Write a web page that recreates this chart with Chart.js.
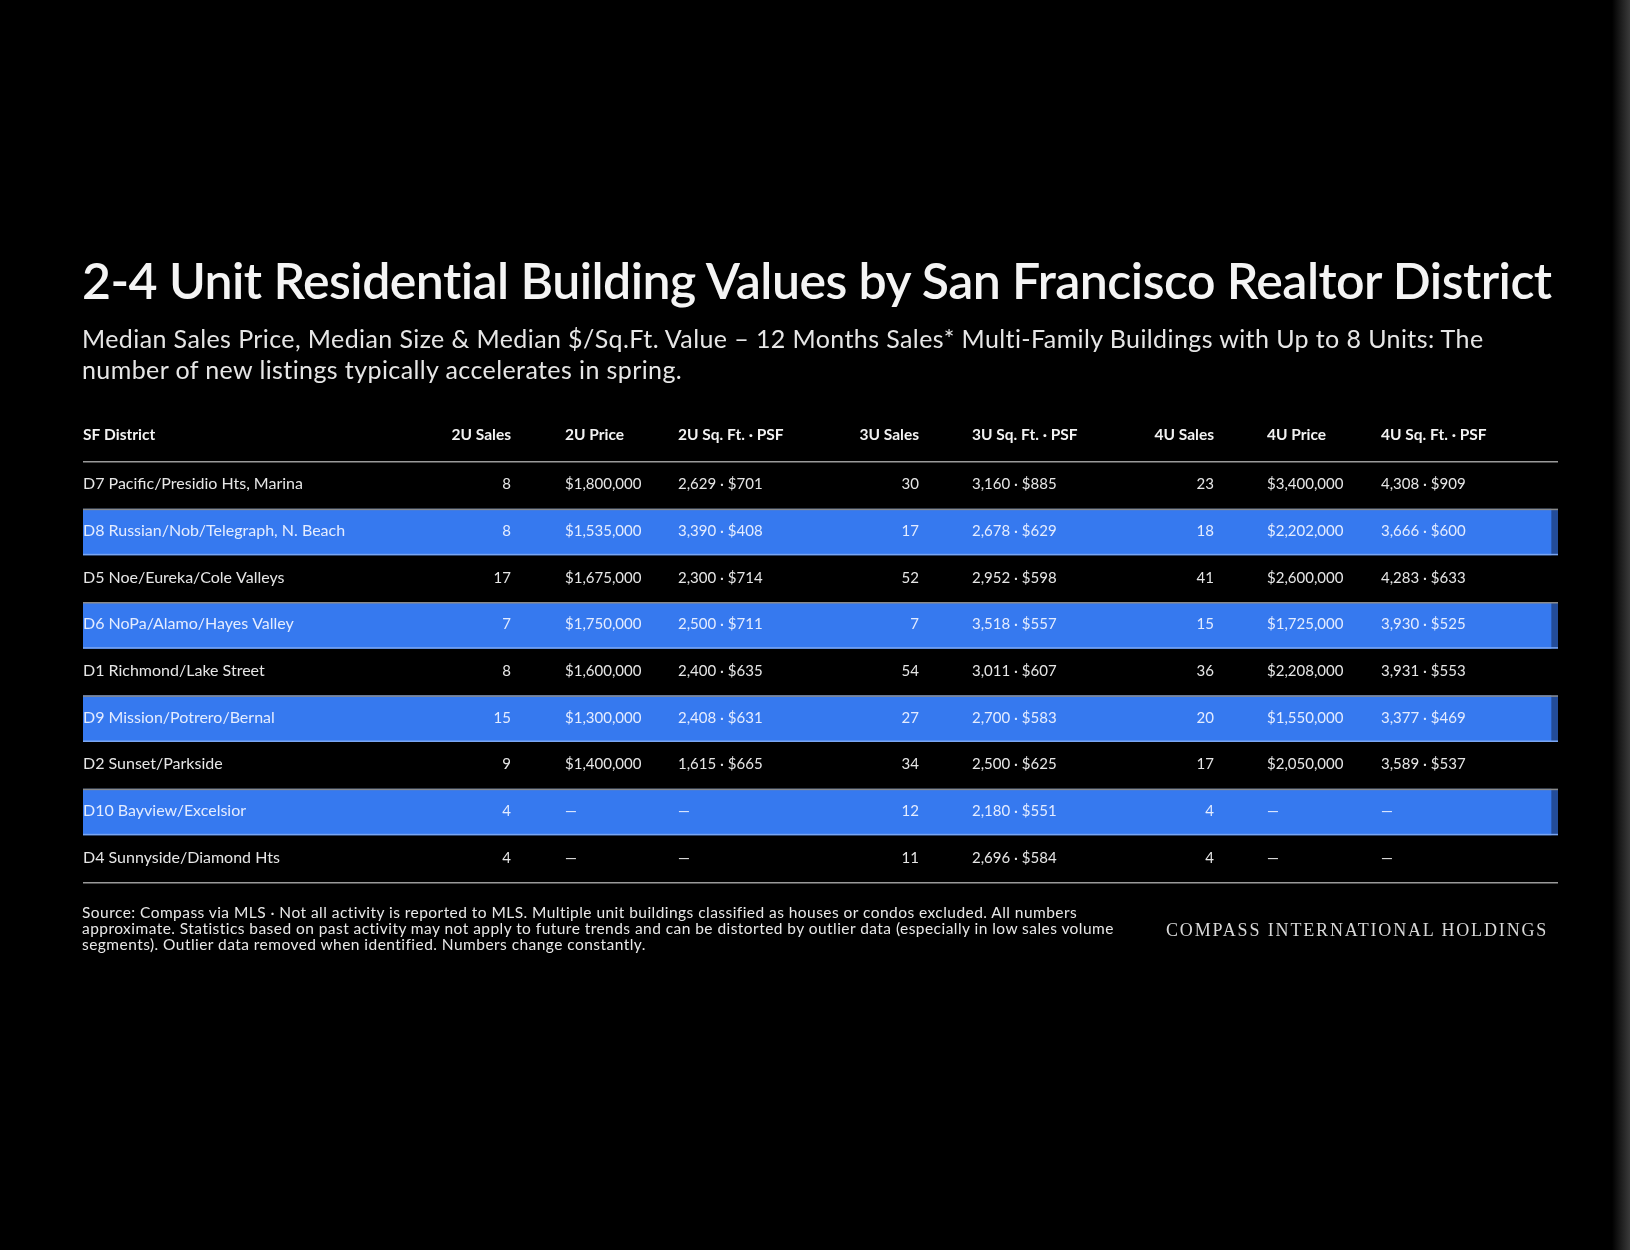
<!DOCTYPE html>
<html>
<head>
<meta charset="utf-8">
<script src="https://cdn.jsdelivr.net/npm/chart.js@4.4.1/dist/chart.umd.min.js"></script>
<style>
html, body { margin: 0; padding: 0; background: #000; }
#page { position: relative; width: 1630px; height: 1250px; overflow: hidden; background: #000; font-family: Lato, "Noto Sans", sans-serif; }
#chart { position: absolute; left: 0; top: 0; }
.txt { position: absolute; white-space: nowrap; }
#title { left: 82px; top: 250px; font-size: 50px; font-weight: 600; color: #f4f4f4; line-height: 60px; letter-spacing: -0.55px; }
#subtitle { left: 82px; top: 323px; font-size: 25px; color: #e6e6e6; line-height: 31px; letter-spacing: 0.4px; }
#foot { left: 82px; top: 904px; font-size: 15.5px; color: #e8e8e8; line-height: 16px; letter-spacing: 0.45px; }
#brand { left: 1166px; top: 920px; font-family: "Liberation Serif", "DejaVu Serif", serif; font-size: 18px; letter-spacing: 1.85px; color: #d8d8d8; }
#edge { position: absolute; right: 0; top: 0; width: 18px; height: 1250px; background: linear-gradient(to right, rgba(60,60,60,0), #3a3a3a); }
</style>
</head>
<body>
<div id="page">
  <canvas id="chart" width="1630" height="1250"></canvas>
  <div class="txt" id="title">2-4 Unit Residential Building Values by San Francisco Realtor District</div>
  <div class="txt" id="subtitle">Median Sales Price, Median Size &amp; Median $/Sq.Ft. Value – 12 Months Sales* Multi-Family Buildings with Up to 8 Units: The<br>number of new listings typically accelerates in spring.</div>
  <div class="txt" id="foot">Source: Compass via MLS · Not all activity is reported to MLS. Multiple unit buildings classified as houses or condos excluded. All numbers<br>approximate. Statistics based on past activity may not apply to future trends and can be distorted by outlier data (especially in low sales volume<br>segments). Outlier data removed when identified. Numbers change constantly.</div>
  <div class="txt" id="brand">COMPASS INTERNATIONAL HOLDINGS</div>
  <div id="edge"></div>
</div>
<script>
// table data, one row per district
var districts = ["D7 Pacific/Presidio Hts, Marina", "D8 Russian/Nob/Telegraph, N. Beach", "D5 Noe/Eureka/Cole Valleys",
    "D6 NoPa/Alamo/Hayes Valley", "D1 Richmond/Lake Street", "D9 Mission/Potrero/Bernal",
    "D2 Sunset/Parkside", "D10 Bayview/Excelsior", "D4 Sunnyside/Diamond Hts"];
var sales2 = [8, 8, 17, 7, 8, 15, 9, 4, 4];
var price2 = [1800000, 1535000, 1675000, 1750000, 1600000, 1300000, 1400000, null, null];
var sqft2 = [2629, 3390, 2300, 2500, 2400, 2408, 1615, null, null];
var psf2 = [701, 408, 714, 711, 635, 631, 665, null, null];
var sales3 = [30, 17, 52, 7, 54, 27, 34, 12, 11];
var sqft3 = [3160, 2678, 2952, 3518, 3011, 2700, 2500, 2180, 2696];
var psf3 = [885, 629, 598, 557, 607, 583, 625, 551, 584];
var sales4 = [23, 18, 41, 15, 36, 20, 17, 4, 4];
var price4 = [3400000, 2202000, 2600000, 1725000, 2208000, 1550000, 2050000, null, null];
var sqft4 = [4308, 3666, 4283, 3930, 3931, 3377, 3589, null, null];
var psf4 = [909, 600, 633, 525, 553, 469, 537, null, null];
var headers = ["SF District", "2U Sales", "2U Price", "2U Sq. Ft. · PSF", "3U Sales", "3U Sq. Ft. · PSF", "4U Sales", "4U Price", "4U Sq. Ft. · PSF"];

var BLUE = "#3679ef";
var BLUE_EDGE = "#234c99";
var DASH = "—";
var FONT = "Lato, 'Noto Sans', sans-serif";

function num(v) { return v == null ? DASH : v.toLocaleString("en-US"); }
function money(v) { return v == null ? DASH : "$" + v.toLocaleString("en-US"); }
function sizePsf(s, p) { return s == null ? DASH : num(s) + " · $" + p; }

// column layout: x in page pixels and alignment
var columns = [
    {x: 83, align: "left", size: 16, cell: function(i){ return districts[i]; }},
    {x: 511, align: "right", size: 15, cell: function(i){ return num(sales2[i]); }},
    {x: 565, align: "left", size: 15, cell: function(i){ return money(price2[i]); }},
    {x: 678, align: "left", size: 15, cell: function(i){ return sizePsf(sqft2[i], psf2[i]); }},
    {x: 919, align: "right", size: 15, cell: function(i){ return num(sales3[i]); }},
    {x: 972, align: "left", size: 15, cell: function(i){ return sizePsf(sqft3[i], psf3[i]); }},
    {x: 1214, align: "right", size: 15, cell: function(i){ return num(sales4[i]); }},
    {x: 1267, align: "left", size: 15, cell: function(i){ return money(price4[i]); }},
    {x: 1381, align: "left", size: 15, cell: function(i){ return sizePsf(sqft4[i], psf4[i]); }}
];

var tablePlugin = {
    id: "tableText",
    afterDatasetsDraw: function(chart) {
        var ctx = chart.ctx;
        var area = chart.chartArea;
        var y = chart.scales.y;
        var bars = chart.getDatasetMeta(0).data;
        ctx.save();
        // borders of the blue bands
        bars.forEach(function(bar, i) {
            if (i % 2 == 0) return;
            var top = bar.y - bar.height / 2, bottom = bar.y + bar.height / 2;
            ctx.fillStyle = "#8a8a8a";
            ctx.fillRect(area.left, top, area.right - area.left, 1.5);
            ctx.fillStyle = "#7aa6f2";
            ctx.fillRect(area.left, bottom - 1.5, area.right - area.left, 1.5);
        });
        // header rule and bottom rule
        ctx.fillStyle = "#9a9a9a";
        ctx.fillRect(area.left, area.top - 1, area.right - area.left, 1.5);
        ctx.fillRect(area.left, area.bottom, area.right - area.left, 1.5);
        // header labels
        ctx.textBaseline = "middle";
        ctx.font = "bold 15.5px " + FONT;
        ctx.fillStyle = "#f2f2f2";
        columns.forEach(function(c, k) {
            ctx.textAlign = c.align;
            ctx.fillText(headers[k], c.x, area.top - 27);
        });
        // cells
        districts.forEach(function(d, i) {
            var py = y.getPixelForValue(i) - 1;
            ctx.fillStyle = i % 2 ? "#e4ecff" : "#e6e6e6";
            columns.forEach(function(c) {
                ctx.font = c.size + "px " + FONT;
                ctx.textAlign = c.align;
                ctx.fillText(c.cell(i), c.x, py);
            });
        });
        ctx.restore();
    }
};

new Chart(document.getElementById("chart"), {
    type: "bar",
    data: {
        labels: districts,
        datasets: [{
            data: districts.map(function(){ return 1; }),
            backgroundColor: function(c){ return c.dataIndex % 2 ? BLUE : "rgba(0,0,0,0)"; },
            borderColor: function(c){ return c.dataIndex % 2 ? BLUE_EDGE : "rgba(0,0,0,0)"; },
            borderWidth: {top: 0, right: 7, bottom: 0, left: 0},
            borderSkipped: false,
            barPercentage: 1,
            categoryPercentage: 1
        }]
    },
    options: {
        indexAxis: "y",
        responsive: false,
        animation: false,
        layout: {padding: {left: 83, right: 72, top: 462, bottom: 368}},
        plugins: {legend: {display: false}, tooltip: {enabled: false}},
        scales: {
            x: {display: false, min: 0, max: 1},
            y: {display: false}
        }
    },
    plugins: [tablePlugin]
});
</script>
</body>
</html>
